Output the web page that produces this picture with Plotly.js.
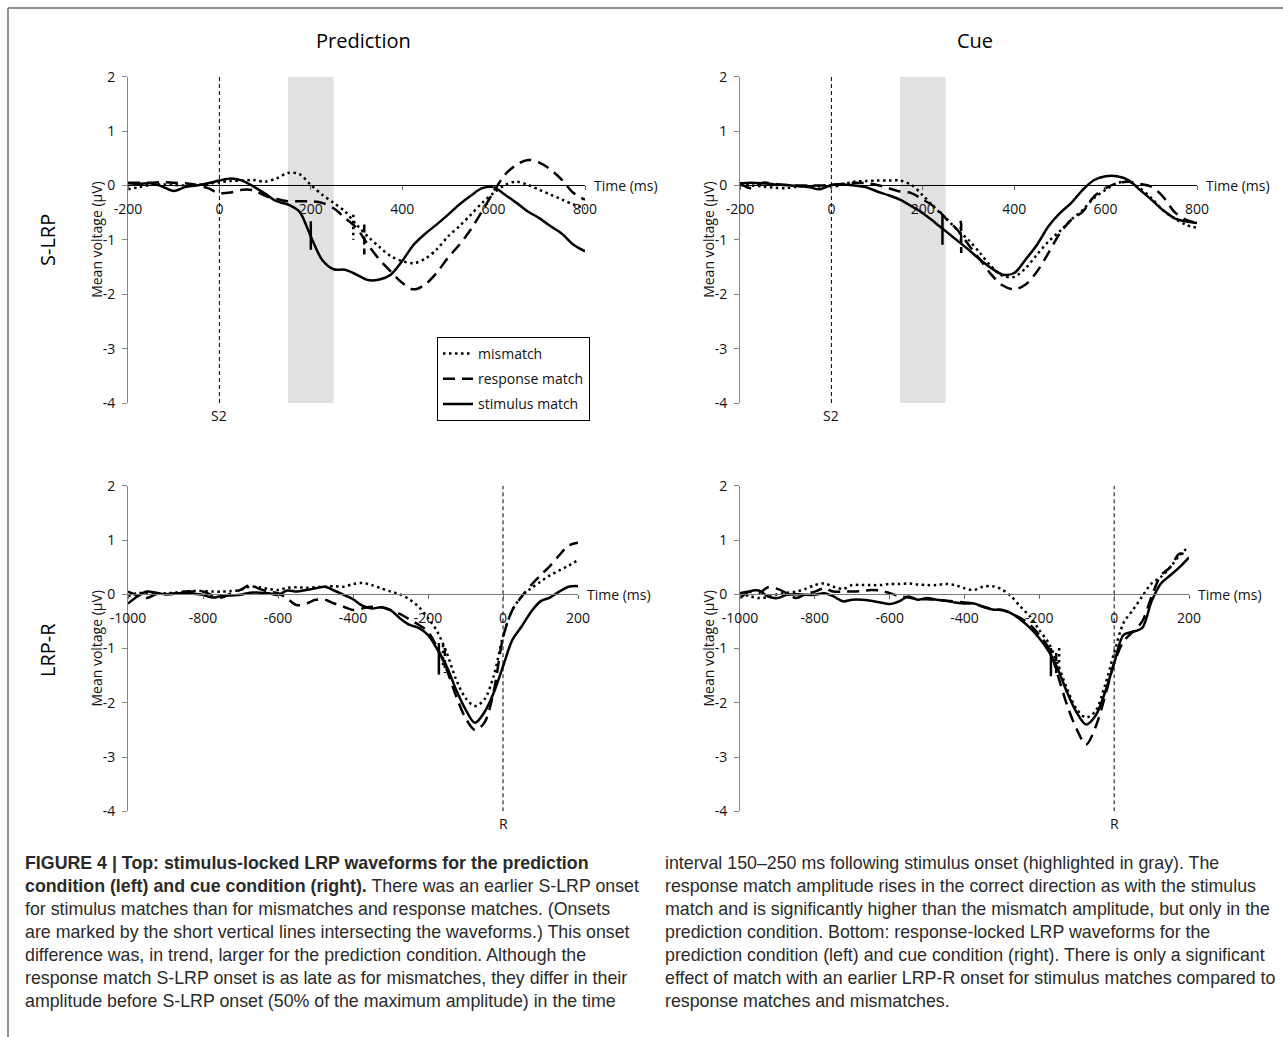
<!DOCTYPE html>
<html>
<head>
<meta charset="utf-8">
<script src="https://cdn.plot.ly/plotly-3.0.1.min.js"></script>
<style>
  html, body { margin: 0; padding: 0; background: #ffffff; }
  #chart { width: 1283px; height: 1037px; }
</style>
</head>
<body>
<div id="chart"></div>
<script>
// ---------------- DATA ----------------
// Stimulus-locked (S-LRP) time grid, ms
const timeS = [-200,-175,-150,-125,-100,-75,-50,-25,0,25,50,75,100,125,150,175,200,225,250,275,300,325,350,375,400,425,450,475,500,525,550,575,600,625,650,675,700,725,750,775,800];
// Response-locked (LRP-R) time grid, ms
const timeR = [-1000,-975,-950,-925,-900,-875,-850,-825,-800,-775,-750,-725,-700,-675,-650,-625,-600,-575,-550,-525,-500,-475,-450,-425,-400,-375,-350,-325,-300,-275,-250,-225,-200,-175,-150,-125,-100,-75,-50,-25,0,25,50,75,100,125,150,175,200];

// Prediction, S-LRP (µV)
const predS_mismatch = [-0.07,-0.03,0.01,0.02,0.01,0.0,0.01,0.03,0.06,0.08,0.09,0.10,0.07,0.13,0.23,0.21,0.01,-0.17,-0.32,-0.48,-0.72,-0.94,-1.13,-1.30,-1.39,-1.43,-1.35,-1.18,-0.94,-0.75,-0.54,-0.32,-0.14,0.01,0.07,0.01,-0.08,-0.17,-0.26,-0.35,-0.42];
const predS_response = [0.05,0.05,0.05,0.06,0.05,0.04,0.01,-0.05,-0.14,-0.13,-0.08,-0.09,-0.19,-0.25,-0.29,-0.29,-0.29,-0.32,-0.42,-0.60,-0.78,-1.09,-1.36,-1.58,-1.79,-1.91,-1.82,-1.61,-1.33,-1.09,-0.81,-0.47,-0.12,0.20,0.38,0.47,0.42,0.29,0.10,-0.14,-0.26];
const predS_stimulus = [0.04,0.03,0.04,-0.02,-0.10,-0.03,0.0,0.04,0.09,0.13,0.09,-0.02,-0.15,-0.29,-0.35,-0.48,-0.94,-1.37,-1.54,-1.55,-1.64,-1.74,-1.73,-1.64,-1.39,-1.09,-0.89,-0.72,-0.54,-0.35,-0.19,-0.05,-0.03,-0.17,-0.32,-0.48,-0.60,-0.75,-0.89,-1.09,-1.21];

// Cue, S-LRP (µV)
const cueS_mismatch = [0.01,0.0,-0.02,-0.04,-0.05,-0.02,-0.01,-0.02,-0.03,0.02,0.07,0.08,0.09,0.09,0.09,0.01,-0.18,-0.40,-0.60,-0.81,-1.00,-1.24,-1.49,-1.66,-1.68,-1.52,-1.27,-1.03,-0.84,-0.63,-0.45,-0.23,-0.08,0.04,0.07,-0.05,-0.23,-0.45,-0.60,-0.72,-0.78];
const cueS_response = [0.03,-0.05,0.05,0.03,0.01,0.0,0.0,0.0,0.01,0.03,0.05,0.04,0.01,-0.05,-0.11,-0.14,-0.26,-0.39,-0.60,-0.81,-1.09,-1.36,-1.64,-1.84,-1.91,-1.82,-1.58,-1.24,-0.88,-0.63,-0.48,-0.20,-0.05,0.04,0.07,0.03,-0.02,-0.20,-0.48,-0.63,-0.69];
const cueS_stimulus = [0.04,0.05,0.04,0.02,0.01,-0.01,-0.03,-0.07,0.01,0.02,0.0,-0.03,-0.11,-0.18,-0.26,-0.38,-0.51,-0.67,-0.84,-1.01,-1.18,-1.36,-1.52,-1.64,-1.61,-1.36,-1.09,-0.75,-0.51,-0.32,-0.08,0.10,0.17,0.17,0.10,-0.08,-0.26,-0.45,-0.60,-0.66,-0.69];

// Prediction, LRP-R (µV)
const predR_mismatch = [-0.04,0.02,0.02,0.01,0.02,0.03,0.05,0.06,0.06,0.05,0.05,0.06,0.08,0.14,0.13,0.10,0.08,0.12,0.13,0.12,0.13,0.14,0.15,0.14,0.19,0.21,0.17,0.11,0.05,0.0,-0.09,-0.23,-0.44,-0.69,-1.08,-1.57,-1.91,-2.06,-1.94,-1.51,-0.78,-0.29,-0.04,0.11,0.23,0.35,0.44,0.53,0.63];
const predR_response = [0.05,-0.02,-0.07,0.0,0.0,0.02,0.05,0.05,0.05,-0.02,-0.06,0.02,0.08,0.17,0.10,0.05,0.02,-0.08,-0.20,-0.17,-0.10,-0.10,-0.17,-0.23,-0.29,-0.26,-0.23,-0.24,-0.29,-0.36,-0.46,-0.56,-0.69,-0.99,-1.39,-1.88,-2.28,-2.50,-2.37,-1.80,-0.80,-0.29,-0.04,0.17,0.35,0.52,0.72,0.90,0.95];
const predR_stimulus = [-0.17,-0.04,0.05,0.03,0.0,0.01,0.03,0.01,-0.01,-0.06,-0.03,-0.02,-0.01,0.03,0.03,0.02,-0.01,0.07,0.05,0.08,0.11,0.14,0.07,-0.01,-0.09,-0.21,-0.26,-0.24,-0.29,-0.44,-0.56,-0.62,-0.75,-1.02,-1.33,-1.76,-2.12,-2.37,-2.18,-1.82,-1.33,-0.84,-0.59,-0.32,-0.13,-0.06,0.05,0.14,0.15];

// Cue, LRP-R (µV)
const cueR_mismatch = [0.02,-0.03,-0.07,-0.05,0.0,0.03,0.05,0.10,0.17,0.20,0.14,0.10,0.17,0.17,0.17,0.17,0.19,0.19,0.20,0.18,0.17,0.17,0.19,0.17,0.11,0.08,0.14,0.15,0.09,-0.04,-0.23,-0.41,-0.66,-0.90,-1.30,-1.76,-2.12,-2.27,-2.15,-1.69,-1.08,-0.53,-0.29,-0.04,0.20,0.32,0.50,0.72,0.88];
const cueR_response = [0.02,0.05,0.02,0.13,0.10,0.02,-0.07,0.0,0.05,0.11,0.05,0.05,0.05,0.06,0.08,0.07,0.02,-0.03,-0.06,-0.09,-0.09,-0.10,-0.12,-0.13,-0.15,-0.17,-0.23,-0.27,-0.29,-0.35,-0.44,-0.56,-0.75,-0.99,-1.51,-2.06,-2.49,-2.77,-2.45,-1.90,-1.27,-0.87,-0.69,-0.50,-0.04,0.35,0.50,0.75,0.70];
const cueR_stimulus = [-0.07,0.05,0.07,-0.04,-0.07,-0.01,0.0,-0.01,-0.01,0.02,-0.04,-0.13,-0.10,-0.10,-0.12,-0.15,-0.18,-0.13,-0.04,-0.10,-0.07,-0.10,-0.12,-0.15,-0.17,-0.17,-0.23,-0.28,-0.29,-0.35,-0.47,-0.62,-0.81,-1.05,-1.39,-1.82,-2.18,-2.40,-2.24,-1.82,-1.27,-0.75,-0.69,-0.62,-0.13,0.20,0.35,0.50,0.68];

// Onset markers: order = mismatch, response match, stimulus match
const predS_onsetT = [293, 317, 200];
const predS_onsetHi = [-0.54, -0.72, -0.66];
const predS_onsetLo = [-1.00, -1.27, -1.18];
const cueS_onsetT = [283, 284, 243];
const cueS_onsetHi = [-0.65, -0.69, -0.54];
const cueS_onsetLo = [-1.00, -1.24, -1.09];
const predR_onsetT = [-160, -155, -171];
const predR_onsetHi = [-0.93, -0.99, -0.90];
const predR_onsetLo = [-1.33, -1.45, -1.48];
const cueR_onsetT = [-147, -155, -169];
const cueR_onsetHi = [-0.99, -1.08, -0.99];
const cueR_onsetLo = [-1.33, -1.48, -1.51];

const seriesNames = ['mismatch', 'response match', 'stimulus match'];
const xTicksS = [-200, 0, 200, 400, 600, 800];
const xTicksR = [-1000, -800, -600, -400, -200, 0, 200];
const yTicks = [-4, -3, -2, -1, 0, 1, 2];
const highlightWindow = [150, 250];
const eventLabels = ['S2', 'R'];
const panelTitles = ['Prediction', 'Cue'];
const rowLabels = ['S-LRP', 'LRP-R'];
const xAxisLabel = 'Time (ms)';
const yAxisLabel = 'Mean voltage (µV)';

const captionLeft = [
  '<b>FIGURE 4 | Top: stimulus-locked LRP waveforms for the prediction</b>',
  '<b>condition (left) and cue condition (right).</b> There was an earlier S-LRP onset',
  'for stimulus matches than for mismatches and response matches. (Onsets',
  'are marked by the short vertical lines intersecting the waveforms.) This onset',
  'difference was, in trend, larger for the prediction condition. Although the',
  'response match S-LRP onset is as late as for mismatches, they differ in their',
  'amplitude before S-LRP onset (50% of the maximum amplitude) in the time'
];
const captionRight = [
  'interval 150–250 ms following stimulus onset (highlighted in gray). The',
  'response match amplitude rises in the correct direction as with the stimulus',
  'match and is significantly higher than the mismatch amplitude, but only in the',
  'prediction condition. Bottom: response-locked LRP waveforms for the',
  'prediction condition (left) and cue condition (right). There is only a significant',
  'effect of match with an earlier LRP-R onset for stimulus matches compared to',
  'response matches and mismatches.'
];

// ---------------- STYLE / LAYOUT ----------------
const W = 1283, H = 1037;
const FONT = "'Open Sans', 'DejaVu Sans', sans-serif";
const CAPFONT = "'Liberation Sans', Arial, sans-serif";
const lineStyles = [
  {color: '#000', width: 2.5, dash: '2.5px,3.5px'},
  {color: '#000', width: 2.5, dash: '12px,7px'},
  {color: '#000', width: 2.5, dash: 'solid'}
];
const px = v => v / W;
const py = v => 1 - v / H;

const panels = [
  {xa: 'x',  ya: 'y',  t: timeS, data: [predS_mismatch, predS_response, predS_stimulus],
   on: [predS_onsetT, predS_onsetHi, predS_onsetLo], xd: [px(128), px(585)], yd: [py(403), py(76.7)],
   range: [-200, 800], ticks: xTicksS, ev: eventLabels[0], shade: true, legend: true, axcol: '#000'},
  {xa: 'x2', ya: 'y2', t: timeS, data: [cueS_mismatch, cueS_response, cueS_stimulus],
   on: [cueS_onsetT, cueS_onsetHi, cueS_onsetLo], xd: [px(740), px(1197)], yd: [py(403), py(76.7)],
   range: [-200, 800], ticks: xTicksS, ev: eventLabels[0], shade: true, legend: false, axcol: '#000'},
  {xa: 'x3', ya: 'y3', t: timeR, data: [predR_mismatch, predR_response, predR_stimulus],
   on: [predR_onsetT, predR_onsetHi, predR_onsetLo], xd: [px(128), px(578)], yd: [py(811.3), py(485.8)],
   range: [-1000, 200], ticks: xTicksR, ev: eventLabels[1], shade: false, legend: false, axcol: '#7a7a7a'},
  {xa: 'x4', ya: 'y4', t: timeR, data: [cueR_mismatch, cueR_response, cueR_stimulus],
   on: [cueR_onsetT, cueR_onsetHi, cueR_onsetLo], xd: [px(740), px(1189)], yd: [py(811.3), py(485.8)],
   range: [-1000, 200], ticks: xTicksR, ev: eventLabels[1], shade: false, legend: false, axcol: '#7a7a7a'}
];

const traces = [];
const shapes = [];
const annotations = [];
const layout = {
  width: W, height: H,
  margin: {l: 0, r: 0, t: 0, b: 0},
  paper_bgcolor: '#fff', plot_bgcolor: 'rgba(0,0,0,0)',
  font: {family: FONT, size: 14, color: '#111'},
  showlegend: true,
  legend: {
    x: px(437), y: py(337), xanchor: 'left', yanchor: 'top',
    bordercolor: '#000', borderwidth: 1, bgcolor: '#fff',
    font: {family: FONT, size: 14, color: '#111'},
    tracegroupgap: 4, itemwidth: 30
  },
  shapes: shapes, annotations: annotations
};

panels.forEach((p, i) => {
  const n = i === 0 ? '' : String(i + 1);
  const yPos0 = p.yd[0] + (p.yd[1] - p.yd[0]) * (4 / 6);
  layout['xaxis' + n] = {
    domain: p.xd, range: p.range, anchor: 'free', position: yPos0,
    showline: true, linecolor: p.axcol, linewidth: 1,
    ticks: 'outside', ticklen: 4, tickcolor: '#666', tickwidth: 1,
    tickvals: p.ticks, ticktext: p.ticks.map(String),
    ticklabelstandoff: 7,
    showgrid: false, zeroline: false, fixedrange: true,
    tickfont: {family: FONT, size: 14, color: '#111'}
  };
  layout['yaxis' + n] = {
    domain: p.yd, range: [-4, 2], anchor: p.xa,
    showline: true, linecolor: '#868686', linewidth: 1,
    ticks: 'outside', ticklen: 5, tickcolor: '#868686',
    tickvals: yTicks, ticktext: yTicks.map(String),
    ticklabelstandoff: 4,
    showgrid: false, zeroline: false, fixedrange: true,
    tickfont: {family: FONT, size: 14, color: '#111'}
  };
  if (p.shade) {
    shapes.push({type: 'rect', xref: p.xa, yref: p.ya, x0: highlightWindow[0], x1: highlightWindow[1],
      y0: -4, y1: 2, fillcolor: '#e1e1e1', line: {width: 0}, layer: 'below'});
  }
  shapes.push({type: 'line', xref: p.xa, yref: p.ya, x0: 0, x1: 0, y0: -4, y1: 2,
    line: {color: '#000', width: 1, dash: '4px,3px'}, layer: 'below'});
  // series
  p.data.forEach((vals, k) => {
    traces.push({
      type: 'scatter', mode: 'lines', x: p.t, y: vals, xaxis: p.xa, yaxis: p.ya,
      name: seriesNames[k], legendgroup: 'g' + k, showlegend: p.legend,
      line: Object.assign({shape: 'spline', smoothing: 0.9}, lineStyles[k]),
      hoverinfo: 'skip'
    });
  });
  // onset markers
  p.on[0].forEach((tOn, k) => {
    traces.push({
      type: 'scatter', mode: 'lines', x: [tOn, tOn], y: [p.on[1][k], p.on[2][k]],
      xaxis: p.xa, yaxis: p.ya, showlegend: false, hoverinfo: 'skip',
      line: Object.assign({}, lineStyles[k], k === 1 ? {dash: '8px,4px'} : {})
    });
  });
  // event label (S2 / R)
  annotations.push({xref: p.xa, yref: p.ya, x: 0, y: -4, yanchor: 'top', xanchor: 'center',
    yshift: -1, text: p.ev, showarrow: false, font: {family: FONT, size: 14, color: '#111'}});
  // Time (ms)
  annotations.push({xref: p.xa, yref: p.ya, x: p.range[1], y: 0, xanchor: 'left', yanchor: 'middle',
    xshift: 7, text: xAxisLabel, showarrow: false, font: {family: FONT, size: 14, color: '#111'}});
  // y-axis title
  annotations.push({xref: 'paper', yref: 'paper', x: p.xd[0] - px(31), y: (p.yd[0] + p.yd[1]) / 2,
    xanchor: 'center', yanchor: 'middle', textangle: -90, text: yAxisLabel, showarrow: false,
    font: {family: FONT, size: 14, color: '#111'}});
});

// panel titles & row labels
annotations.push({xref: 'paper', yref: 'paper', x: px(363), y: py(41), text: panelTitles[0],
  showarrow: false, xanchor: 'center', yanchor: 'middle', font: {family: FONT, size: 20, color: '#000'}});
annotations.push({xref: 'paper', yref: 'paper', x: px(975), y: py(41), text: panelTitles[1],
  showarrow: false, xanchor: 'center', yanchor: 'middle', font: {family: FONT, size: 20, color: '#000'}});
annotations.push({xref: 'paper', yref: 'paper', x: px(47), y: py(240), text: rowLabels[0], textangle: -90,
  showarrow: false, xanchor: 'center', yanchor: 'middle', font: {family: FONT, size: 20, color: '#000'}});
annotations.push({xref: 'paper', yref: 'paper', x: px(47), y: py(650), text: rowLabels[1], textangle: -90,
  showarrow: false, xanchor: 'center', yanchor: 'middle', font: {family: FONT, size: 20, color: '#000'}});

// caption
const capY0 = 863, capDY = 23;
captionLeft.forEach((txt, i) => {
  annotations.push({xref: 'paper', yref: 'paper', x: px(23), y: py(capY0 + i * capDY), text: txt,
    showarrow: false, xanchor: 'left', yanchor: 'middle', align: 'left',
    font: {family: CAPFONT, size: 17.8, color: '#2a2a2a'}});
});
captionRight.forEach((txt, i) => {
  annotations.push({xref: 'paper', yref: 'paper', x: px(663), y: py(capY0 + i * capDY), text: txt,
    showarrow: false, xanchor: 'left', yanchor: 'middle', align: 'left',
    font: {family: CAPFONT, size: 17.8, color: '#2a2a2a'}});
});

// figure frame
shapes.push({type: 'line', xref: 'paper', yref: 'paper', x0: px(8), x1: 1, y0: py(8), y1: py(8),
  line: {color: '#6e6e6e', width: 1.5}});
shapes.push({type: 'line', xref: 'paper', yref: 'paper', x0: px(8), x1: px(8), y0: py(8), y1: 0,
  line: {color: '#6e6e6e', width: 1.5}});

Plotly.newPlot('chart', traces, layout, {displayModeBar: false, staticPlot: true});
</script>
</body>
</html>
